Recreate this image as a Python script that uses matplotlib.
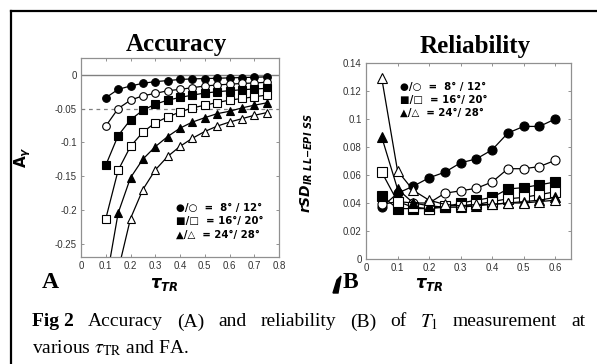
import numpy as np
import matplotlib
matplotlib.use("Agg")
import matplotlib.pyplot as plt
from matplotlib.lines import Line2D
from matplotlib.patches import Polygon

plt.rcParams['axes.unicode_minus'] = False
plt.rcParams['mathtext.fontset'] = 'custom'
plt.rcParams['mathtext.rm'] = 'DejaVu Sans:bold'
plt.rcParams['mathtext.it'] = 'DejaVu Sans:italic:bold'
plt.rcParams['mathtext.bf'] = 'DejaVu Sans:bold'

W, H = 597, 364

# ---- data: panel A (accuracy) ----
tau_a = [0.10, 0.15, 0.20, 0.25, 0.30, 0.35, 0.40, 0.45, 0.50, 0.55, 0.60, 0.65, 0.70, 0.75]
acc_8 = [-0.034, -0.0215, -0.0165, -0.0125, -0.010, -0.0085, -0.0068, -0.006, -0.0055, -0.005,
         -0.0045, -0.004, -0.0035, -0.003]
acc_12 = [-0.076, -0.050, -0.0375, -0.031, -0.0275, -0.0235, -0.0215, -0.019, -0.0165, -0.015,
          -0.0138, -0.0128, -0.012, -0.011]
acc_16 = [-0.134, -0.090, -0.0665, -0.0525, -0.0435, -0.0375, -0.0335, -0.030, -0.027, -0.025,
          -0.0235, -0.022, -0.021, -0.020]
acc_20 = [-0.2135, -0.1415, -0.106, -0.085, -0.071, -0.0625, -0.055, -0.049, -0.045, -0.041,
          -0.0375, -0.035, -0.0325, -0.030]
acc_24 = [-0.31, -0.205, -0.1525, -0.125, -0.1065, -0.0915, -0.079, -0.070, -0.0635, -0.0575,
          -0.054, -0.049, -0.045, -0.0415]
acc_28 = [-0.42, -0.29, -0.213, -0.170, -0.141, -0.121, -0.106, -0.094, -0.084, -0.076,
          -0.070, -0.065, -0.060, -0.056]

# ---- data: panel B (reliability) ----
tau_b = [0.05, 0.10, 0.15, 0.20, 0.25, 0.30, 0.35, 0.40, 0.45, 0.50, 0.55, 0.60]
rsd_8 = [0.037, 0.047, 0.052, 0.058, 0.062, 0.0687, 0.0715, 0.078, 0.090, 0.0947, 0.0947, 0.100]
rsd_12 = [0.039, 0.041, 0.040, 0.040, 0.047, 0.0487, 0.0505, 0.055, 0.0645, 0.0645, 0.066, 0.0705]
rsd_16 = [0.045, 0.036, 0.036, 0.036, 0.037, 0.040, 0.042, 0.044, 0.050, 0.051, 0.053, 0.055]
rsd_20 = [0.062, 0.041, 0.037, 0.036, 0.038, 0.038, 0.039, 0.041, 0.043, 0.044, 0.046, 0.048]
rsd_24 = [0.087, 0.050, 0.040, 0.038, 0.037, 0.037, 0.038, 0.039, 0.040, 0.041, 0.042, 0.044]
rsd_28 = [0.129, 0.063, 0.049, 0.042, 0.039, 0.038, 0.039, 0.039, 0.040, 0.040, 0.041, 0.042]

# ---- ticks / labels ----
xticks_a = [0, 0.1, 0.2, 0.3, 0.4, 0.5, 0.6, 0.7, 0.8]
xlabels_a = ['0', '0.1', '0.2', '0.3', '0.4', '0.5', '0.6', '0.7', '0.8']
yticks_a = [0, -0.05, -0.1, -0.15, -0.2, -0.25]
ylabels_a = ['0', '-0.05', '-0.1', '-0.15', '-0.2', '-0.25']
xticks_b = [0, 0.1, 0.2, 0.3, 0.4, 0.5, 0.6]
xlabels_b = ['0', '0.1', '0.2', '0.3', '0.4', '0.5', '0.6']
yticks_b = [0, 0.02, 0.04, 0.06, 0.08, 0.1, 0.12, 0.14]
ylabels_b = ['0', '0.02', '0.04', '0.06', '0.08', '0.1', '0.12', '0.14']
legend_rows = ['\u25CF/\u25CB  =  8\u00b0 / 12\u00b0',
               '\u25A0/\u25A1  = 16\u00b0/ 20\u00b0',
               '\u25B2/\u25B3  = 24\u00b0/ 28\u00b0']


def fx(px):
    return px / W


def fy(py):
    return 1 - py / H


fig = plt.figure(figsize=(W / 100, H / 100), dpi=100)
fig.patch.set_facecolor('white')

axA = fig.add_axes([fx(81), fy(257), fx(279) - fx(81), fy(58) - fy(257)])
axB = fig.add_axes([fx(366), fy(259), fx(571) - fx(366), fy(63) - fy(259)])

series_a = [(acc_8, 'o', True), (acc_12, 'o', False), (acc_16, 's', True),
            (acc_20, 's', False), (acc_24, '^', True), (acc_28, '^', False)]
series_b = [(rsd_8, 'o', True), (rsd_12, 'o', False), (rsd_16, 's', True),
            (rsd_20, 's', False), (rsd_24, '^', True), (rsd_28, '^', False)]

# reference lines in A
axA.axhline(0, color='#808080', lw=1.0, zorder=1)
axA.axhline(-0.05, color='#808080', lw=0.9, ls=(0, (3, 3)), zorder=1)

for vals, m, filled in series_a:
    axA.plot(tau_a, vals, '-', color='black', lw=0.9, marker=m, ms=5.5,
             mfc='black' if filled else 'white', mec='black', mew=0.8)
for vals, m, filled in series_b:
    axB.plot(tau_b, vals, '-', color='black', lw=0.9, marker=m, ms=6.5,
             mfc='black' if filled else 'white', mec='black', mew=0.8)

axA.set_xlim(0, 0.8)
axA.set_ylim(-0.27, 0.025)
axB.set_xlim(0, 0.65)
axB.set_ylim(0, 0.14)

tick_font = dict(fontsize=7, family='Liberation Sans', color='#333333')
for ax, xt, xl, yt, yl in [(axA, xticks_a, xlabels_a, yticks_a, ylabels_a),
                           (axB, xticks_b, xlabels_b, yticks_b, ylabels_b)]:
    ax.set_xticks(xt, xl, **tick_font)
    ax.set_yticks(yt, yl, **tick_font)
    ax.tick_params(direction='in', length=2.5, width=0.6, color='#808080',
                   top=True, right=True, pad=3)
    for s in ax.spines.values():
        s.set_color('#909090')
        s.set_linewidth(0.9)

# axis labels
axA.set_ylabel(r'$\mathrm{A}_{\gamma}$', fontsize=11)
axA.yaxis.set_label_coords(-0.24, 0.5)
axA.set_xlabel(r'$\tau_{\mathit{TR}}$', fontsize=12)
axA.xaxis.set_label_coords(0.42, -0.09)
axB.set_ylabel(r'$\mathit{rSD}_{\mathit{IR\ LL}\mathrm{-}\mathit{EPI\ SS}}$', fontsize=10)
axB.yaxis.set_label_coords(-0.25, 0.49)
axB.set_xlabel(r'$\tau_{\mathit{TR}}$', fontsize=12)
axB.xaxis.set_label_coords(0.31, -0.08)

# legends as text
for i, row in enumerate(legend_rows):
    fig.text(fx(176), fy(208 + 13.5 * i), row, fontsize=7.3, weight='bold',
             family='DejaVu Sans', va='center', ha='left')
    fig.text(fx(400), fy(87 + 13 * i), row, fontsize=7.3, weight='bold',
             family='DejaVu Sans', va='center', ha='left')

# titles and panel letters
serif = 'Liberation Serif'
fig.text(fx(176), fy(45), 'Accuracy', fontsize=18, weight='bold', family=serif,
         ha='center', va='center')
fig.text(fx(475), fy(47), 'Reliability', fontsize=18, weight='bold', family=serif,
         ha='center', va='center')
fig.text(fx(50), fy(283), 'A', fontsize=17, weight='bold', family=serif,
         ha='center', va='center')
fig.text(fx(350), fy(282), 'B', fontsize=17, weight='bold', family=serif,
         ha='center', va='center')
fig.add_artist(Polygon([(fx(333), fy(293)), (fx(337), fy(280)), (fx(341), fy(276)),
                        (fx(338), fy(293))], closed=True, color='black',
                       transform=fig.transFigure))

# caption, first line justified word by word
cap_size = 14
words = [('Fig 2', 'bold'), ('Accuracy', 'normal'), ('(A)', 'normal'), ('and', 'normal'),
         ('reliability', 'normal'), ('(B)', 'normal'), ('of', 'normal'),
         (r'$T_1$', 'normal'), ('measurement', 'normal'), ('at', 'normal')]
x0, x1 = 32, 585
texts = []
for w, wt in words:
    t = fig.text(0, fy(322), w, fontsize=cap_size, family=serif, weight=wt,
                 va='center', ha='left', math_fontfamily='stix')
    texts.append(t)
r = fig.canvas.get_renderer()
widths = [t.get_window_extent(r).width for t in texts]
gap = (x1 - x0 - sum(widths)) / (len(words) - 1)
x = x0
for t, wd in zip(texts, widths):
    t.set_x(fx(x))
    x += wd + gap
fig.text(fx(32), fy(348), r'various $\tau_{\mathrm{TR}}$ and FA.', fontsize=cap_size,
         family=serif, va='center', ha='left', math_fontfamily='stix')

# figure border (cut at right and bottom)
fig.add_artist(Line2D([fx(11), fx(597)], [fy(11), fy(11)], color='black', lw=1.6,
                      transform=fig.transFigure))
fig.add_artist(Line2D([fx(11), fx(11)], [fy(11), fy(364)], color='black', lw=1.6,
                      transform=fig.transFigure))

fig.savefig('out.png', dpi=100)
